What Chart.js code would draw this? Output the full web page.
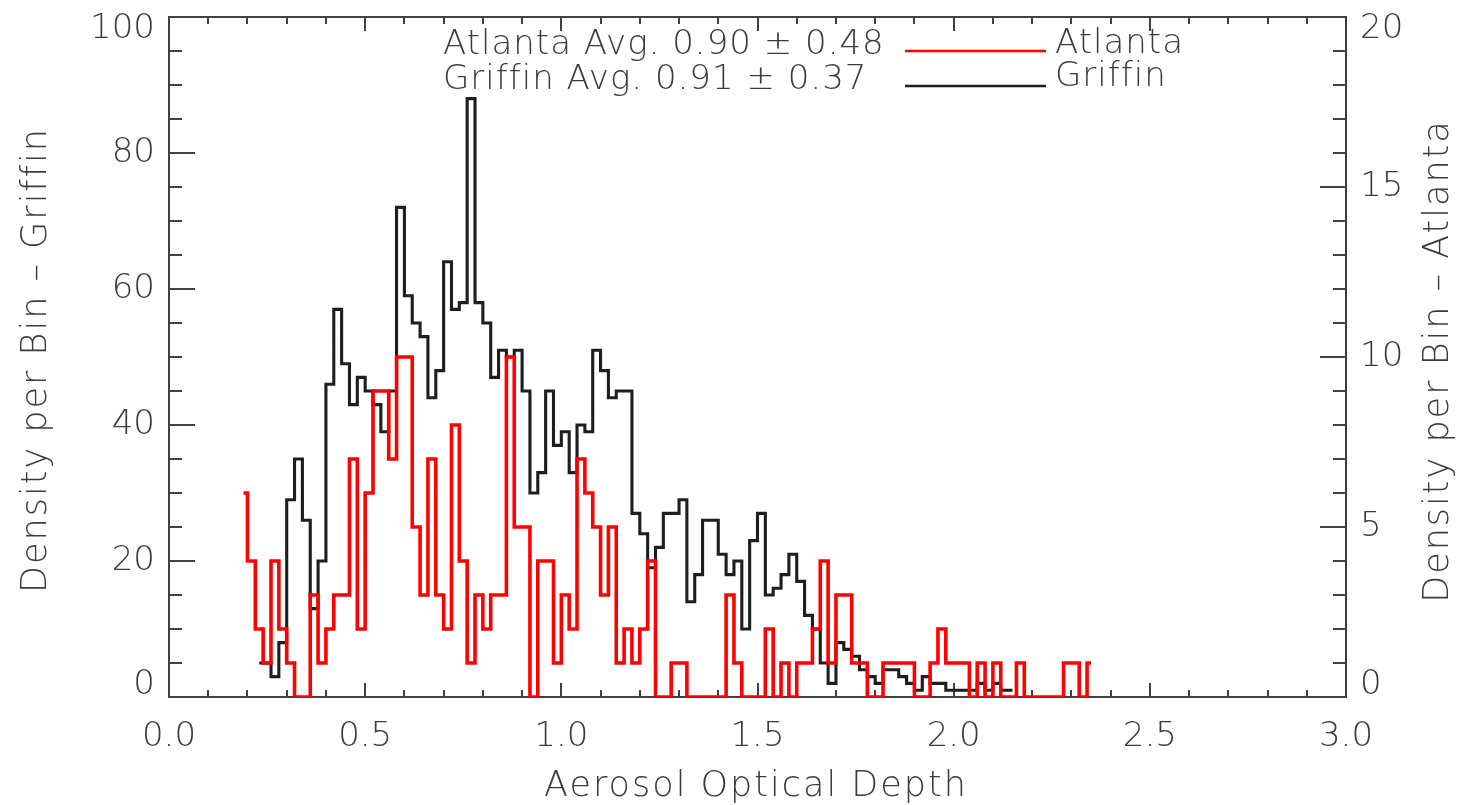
<!DOCTYPE html>
<html>
<head>
<meta charset="utf-8">
<title>Aerosol Optical Depth - Atlanta and Griffin</title>
<script src="https://cdn.jsdelivr.net/npm/chart.js@4.4.1/dist/chart.umd.min.js"></script>
<style>
	html, body { margin: 0; padding: 0; background: #fff; }
	canvas { display: block; }
</style>
</head>
<body>
<canvas id="aodChart" width="1465" height="805"></canvas>
<script>
// Histogram bins: first bin centred on 0.19, bins 0.02 wide
var binStart = 0.19;
var binWidth = 0.02;

// Atlanta counts per bin (right axis), bins 0 .. 108
var atlantaCounts = [
	6, 4, 2, 1, 4, 2, 1, 0, 0, 3,
	1, 2, 3, 3, 7, 2, 6, 9, 9, 7,
	10, 10, 5, 3, 7, 3, 2, 8, 4, 1,
	3, 2, 3, 3, 10, 5, 5, 0, 4, 4,
	1, 3, 2, 7, 6, 5, 3, 5, 1, 2,
	1, 2, 4, 0, 0, 1, 1, 0, 0, 0,
	0, 0, 3, 1, 0, 0, 0, 2, 0, 1,
	0, 1, 1, 2, 4, 1, 3, 3, 1, 1,
	0, 0, 1, 1, 1, 1, 0, 0, 1, 2,
	1, 1, 1, 0, 1, 0, 1, 0, 0, 1,
	0, 0, 0, 0, 0, 1, 1, 0, 1
];

// Griffin counts per bin (left axis), starting at bin 2
var griffinFirstBin = 2;
var griffinCounts = [
	5, 5, 3, 8, 29, 35, 26, 13, 20, 46,
	57, 49, 43, 47, 45, 43, 39, 45, 72, 59,
	55, 53, 44, 48, 64, 57, 58, 88, 58, 55,
	47, 51, 50, 51, 45, 30, 33, 45, 37, 39,
	33, 40, 39, 51, 48, 44, 45, 45, 27, 24,
	19, 22, 27, 27, 29, 14, 18, 26, 26, 21,
	18, 20, 10, 23, 27, 15, 16, 18, 21, 17,
	12, 10, 5, 2, 8, 7, 6, 4, 3, 2,
	4, 4, 3, 2, 1, 3, 2, 2, 1, 1,
	1, 1, 2, 1, 2, 1, 1
];

// Axis ranges and tick steps
var xRange = [0, 3];
var xMajorStep = 0.5;
var xMinorStep = 0.1;
var leftRange = [0, 100];
var leftMajorStep = 20;
var leftMinorStep = 5;
var rightRange = [0, 20];
var rightMajorStep = 5;
var rightMinorStep = 1;

// Texts
var xTitle = 'Aerosol Optical Depth';
var leftTitle = 'Density per Bin \u2013 Griffin';
var rightTitle = 'Density per Bin \u2013 Atlanta';
var statLines = ['Atlanta Avg. 0.90 \u00b1 0.48', 'Griffin Avg. 0.91 \u00b1 0.37'];
var legendNames = ['Atlanta', 'Griffin'];
var seriesColors = ['#ff0000', '#1e1e1e'];

var TEXT_COLOR = '#3c3c3c';
var FONT = 'DejaVu Sans';

function toPoints(counts, firstBin) {
	var pts = [];
	for (var i = 0; i < counts.length; i++) {
		pts.push({ x: binStart + binWidth * (firstBin + i), y: counts[i] });
	}
	return pts;
}

// Ends of the y range are pushed inside the frame, like the original plot
function edgeLabel(range) {
	return function (value) {
		if (value === range[1]) return ['', String(value)];
		if (value === range[0]) return [String(value), ''];
		return String(value);
	};
}

// Fixed axis sizes, no extra room for the end labels
function fixWidth(w) {
	return function (s) {
		s.width = w;
		s.paddingTop = 0;
		s.paddingBottom = 0;
	};
}

// Frame with inward ticks on all four sides
var frameTicks = {
	id: 'frameTicks',
	beforeDatasetsDraw: function (chart) {
		var ctx = chart.ctx,
			a = chart.chartArea,
			xs = chart.scales.x,
			yl = chart.scales.y,
			yr = chart.scales.yR,
			v, p, len, n;
		ctx.save();
		ctx.strokeStyle = '#404040';
		ctx.lineWidth = 2;
		ctx.strokeRect(a.left, a.top, a.right - a.left, a.bottom - a.top);
		ctx.beginPath();
		n = Math.round((xRange[1] - xRange[0]) / xMinorStep);
		for (var i = 0; i <= n; i++) {
			v = xRange[0] + i * xMinorStep;
			p = Math.round(xs.getPixelForValue(v));
			len = i % Math.round(xMajorStep / xMinorStep) === 0 ? 14 : 7;
			ctx.moveTo(p, a.bottom);
			ctx.lineTo(p, a.bottom - len);
			ctx.moveTo(p, a.top);
			ctx.lineTo(p, a.top + len);
		}
		for (v = leftRange[0]; v <= leftRange[1]; v += leftMinorStep) {
			p = Math.round(yl.getPixelForValue(v));
			len = v % leftMajorStep === 0 ? 26 : 13;
			ctx.moveTo(a.left, p);
			ctx.lineTo(a.left + len, p);
		}
		for (v = rightRange[0]; v <= rightRange[1]; v += rightMinorStep) {
			p = Math.round(yr.getPixelForValue(v));
			len = v % rightMajorStep === 0 ? 26 : 13;
			ctx.moveTo(a.right, p);
			ctx.lineTo(a.right - len, p);
		}
		ctx.stroke();
		ctx.restore();
	},
	afterDraw: function (chart) {
		var ctx = chart.ctx;
		ctx.save();
		ctx.fillStyle = TEXT_COLOR;
		ctx.font = '200 34px "' + FONT + '"';
		ctx.textBaseline = 'alphabetic';
		ctx.letterSpacing = '1px';

		// statistics and legend
		ctx.textAlign = 'left';
		ctx.fillText(statLines[0], 443, 54);
		ctx.fillText(statLines[1], 443, 89);
		ctx.fillText(legendNames[0], 1055, 53);
		ctx.fillText(legendNames[1], 1055, 86);
		ctx.lineWidth = 2.5;
		ctx.strokeStyle = seriesColors[0];
		ctx.beginPath();
		ctx.moveTo(905, 51);
		ctx.lineTo(1046, 51);
		ctx.stroke();
		ctx.strokeStyle = seriesColors[1];
		ctx.beginPath();
		ctx.moveTo(905, 86);
		ctx.lineTo(1046, 86);
		ctx.stroke();

		// axis titles
		ctx.font = '200 35px "' + FONT + '"';
		ctx.letterSpacing = '2px';
		ctx.textAlign = 'center';
		ctx.fillText(xTitle, 756, 796);

		ctx.save();
		ctx.translate(46, 360);
		ctx.rotate(-Math.PI / 2);
		ctx.fillText(leftTitle, 0, 0);
		ctx.restore();

		ctx.save();
		ctx.translate(1448, 361);
		ctx.rotate(-Math.PI / 2);
		ctx.fillText(rightTitle, 0, 0);
		ctx.restore();

		ctx.restore();
	}
};

var tickFont = { family: FONT, size: 34, weight: 200, lineHeight: '24px' };

new Chart(document.getElementById('aodChart'), {
	type: 'line',
	data: {
		datasets: [
			{
				label: legendNames[0],
				data: toPoints(atlantaCounts, 0),
				yAxisID: 'yR',
				borderColor: seriesColors[0],
				borderWidth: 3.6,
				stepped: 'middle',
				pointRadius: 0,
				fill: false,
				order: 0,
			},
			{
				label: legendNames[1],
				data: toPoints(griffinCounts, griffinFirstBin),
				yAxisID: 'y',
				borderColor: seriesColors[1],
				borderWidth: 3.1,
				stepped: 'middle',
				pointRadius: 0,
				fill: false,
				order: 1,
			},
		],
	},
	options: {
		responsive: false,
		animation: false,
		devicePixelRatio: 1,
		layout: { autoPadding: false, padding: { top: 17, left: 0, right: 0, bottom: 0 } },
		plugins: {
			legend: { display: false },
			tooltip: { enabled: false },
		},
		scales: {
			x: {
				type: 'linear',
				min: xRange[0],
				max: xRange[1],
				grid: { display: false, drawTicks: false, tickLength: 0 },
				border: { display: false },
				ticks: {
					stepSize: xMajorStep,
					color: TEXT_COLOR,
					font: { family: FONT, size: 34, weight: 200 },
					padding: 20,
					maxRotation: 0,
					callback: function (v) { return v.toFixed(1); },
				},
				afterFit: function (s) {
					s.height = 108;
					s.paddingLeft = 0;
					s.paddingRight = 0;
				},
			},
			y: {
				position: 'left',
				min: leftRange[0],
				max: leftRange[1],
				grid: { display: false, drawTicks: false, tickLength: 0 },
				border: { display: false },
				ticks: {
					stepSize: leftMajorStep,
					color: TEXT_COLOR,
					font: tickFont,
					padding: 14,
					callback: edgeLabel(leftRange),
				},
				afterFit: fixWidth(169),
			},
			yR: {
				position: 'right',
				min: rightRange[0],
				max: rightRange[1],
				grid: { display: false, drawTicks: false, tickLength: 0 },
				border: { display: false },
				ticks: {
					stepSize: rightMajorStep,
					color: TEXT_COLOR,
					font: tickFont,
					padding: 14,
					callback: edgeLabel(rightRange),
				},
				afterFit: fixWidth(119),
			},
		},
	},
	plugins: [frameTicks],
});
</script>
</body>
</html>
